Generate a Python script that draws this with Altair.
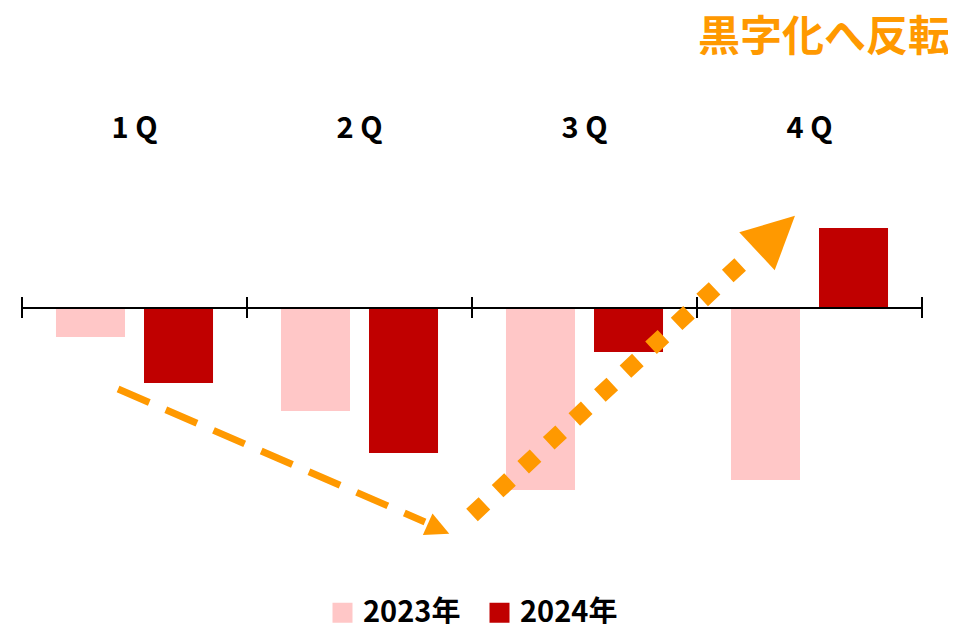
import altair as alt
import pandas as pd

quarters = ["1 Q", "2 Q", "3 Q", "4 Q"]
years = ["2023年", "2024年"]
v2023 = [-29, -103, -182, -172]
v2024 = [-75, -145, -44, 80]
colors = ["#FFC7C7", "#C00000"]
orange = "#FF9900"
title_text = "黒字化へ反転"

# annotation paths in (quarter units, value units)
dash_x = [0.427, 1.791]
dash_y = [-81, -214]
dash_head = (1.851, -221, 114, 560)
dot_x = [2.0, 3.213]
dot_y = [-207, 48]
dot_head = (3.351, 74.5, 47, 2700)

FONT = "Noto Sans CJK JP"

bars_df = pd.DataFrame({
    "quarter": quarters * 2,
    "year": [years[0]] * 4 + [years[1]] * 4,
    "value": v2023 + v2024,
})

yscale = alt.Scale(domain=[-252, 128], nice=False, zero=False)
xq = alt.Scale(domain=[0, 4], nice=False, zero=False)

bars = alt.Chart(bars_df).mark_bar().encode(
    x=alt.X("quarter:N", sort=quarters, scale=alt.Scale(paddingInner=0, paddingOuter=0), axis=None),
    xOffset=alt.XOffset("year:N", sort=years, scale=alt.Scale(paddingInner=0.216, paddingOuter=0.386)),
    y=alt.Y("value:Q", scale=yscale, axis=None),
    color=alt.Color("year:N", sort=years, scale=alt.Scale(domain=years, range=colors),
                    legend=alt.Legend(title=None, orient="none", direction="horizontal",
                                      legendX=306, legendY=418, symbolType="square",
                                      symbolSize=400, symbolStrokeWidth=0,
                                      labelFont=FONT, labelFontSize=29, labelFontWeight="bold",
                                      labelColor="#000000", columnPadding=24, labelOffset=6)),
)

axis_df = pd.DataFrame({"x": [0], "x2": [4], "y": [0]})
zero_line = alt.Chart(axis_df).mark_rule(color="black", strokeWidth=2).encode(
    x=alt.X("x:Q", scale=xq, axis=None), x2="x2:Q", y=alt.Y("y:Q", scale=yscale, axis=None))

ticks_df = pd.DataFrame({"x": [0, 1, 2, 3, 4], "y": [-10] * 5, "y2": [11] * 5})
ticks = alt.Chart(ticks_df).mark_rule(color="black", strokeWidth=2).encode(
    x=alt.X("x:Q", scale=xq, axis=None), y=alt.Y("y:Q", scale=yscale, axis=None), y2="y2:Q")

qlab_df = pd.DataFrame({"x": [0.5, 1.5, 2.5, 3.5], "y": [179] * 4, "t": quarters})
qlabels = alt.Chart(qlab_df).mark_text(font=FONT, fontSize=29, fontWeight="bold", color="#000000",
                                       baseline="middle", align="center").encode(
    x=alt.X("x:Q", scale=xq, axis=None), y=alt.Y("y:Q", scale=yscale, axis=None), text="t:N")

title_df = pd.DataFrame({"x": [4.124], "y": [270], "t": [title_text]})
title = alt.Chart(title_df).mark_text(font=FONT, fontSize=42, fontWeight="bold", color=orange,
                                      baseline="middle", align="right").encode(
    x=alt.X("x:Q", scale=xq, axis=None), y=alt.Y("y:Q", scale=yscale, axis=None), text="t:N")

dash_df = pd.DataFrame({"x": dash_x, "y": dash_y, "o": [0, 1]})
dash_line = alt.Chart(dash_df).mark_line(color=orange, strokeWidth=7, strokeDash=[34, 18],
                                         strokeCap="butt").encode(
    x=alt.X("x:Q", scale=xq, axis=None), y=alt.Y("y:Q", scale=yscale, axis=None), order="o:O")

dot_df = pd.DataFrame({"x": dot_x, "y": dot_y, "o": [0, 1]})
dot_line = alt.Chart(dot_df).mark_line(color=orange, strokeWidth=17, strokeDash=[17, 18],
                                       strokeCap="butt").encode(
    x=alt.X("x:Q", scale=xq, axis=None), y=alt.Y("y:Q", scale=yscale, axis=None), order="o:O")

tri = "M-1,1L1,1L0,-1Z"
heads_df = pd.DataFrame({
    "x": [dash_head[0], dot_head[0]],
    "y": [dash_head[1], dot_head[1]],
    "a": [dash_head[2], dot_head[2]],
    "s": [dash_head[3], dot_head[3]],
})
heads = alt.Chart(heads_df).mark_point(shape=tri, filled=True, color=orange, opacity=1,
                                       strokeWidth=0).encode(
    x=alt.X("x:Q", scale=xq, axis=None), y=alt.Y("y:Q", scale=yscale, axis=None),
    angle=alt.Angle("a:Q", scale=None), size=alt.Size("s:Q", scale=None, legend=None))

chart = alt.layer(bars, zero_line, ticks, qlabels, title, dash_line, dot_line, heads).resolve_scale(
    x="independent"
).properties(
    width=900, height=380,
    autosize=alt.AutoSizeParams(type="none"),
    padding={"left": 14, "top": 172, "right": 26, "bottom": 64},
).configure_view(stroke=None)

chart.save("out.html", embed_options={"renderer": "svg", "actions": False})
